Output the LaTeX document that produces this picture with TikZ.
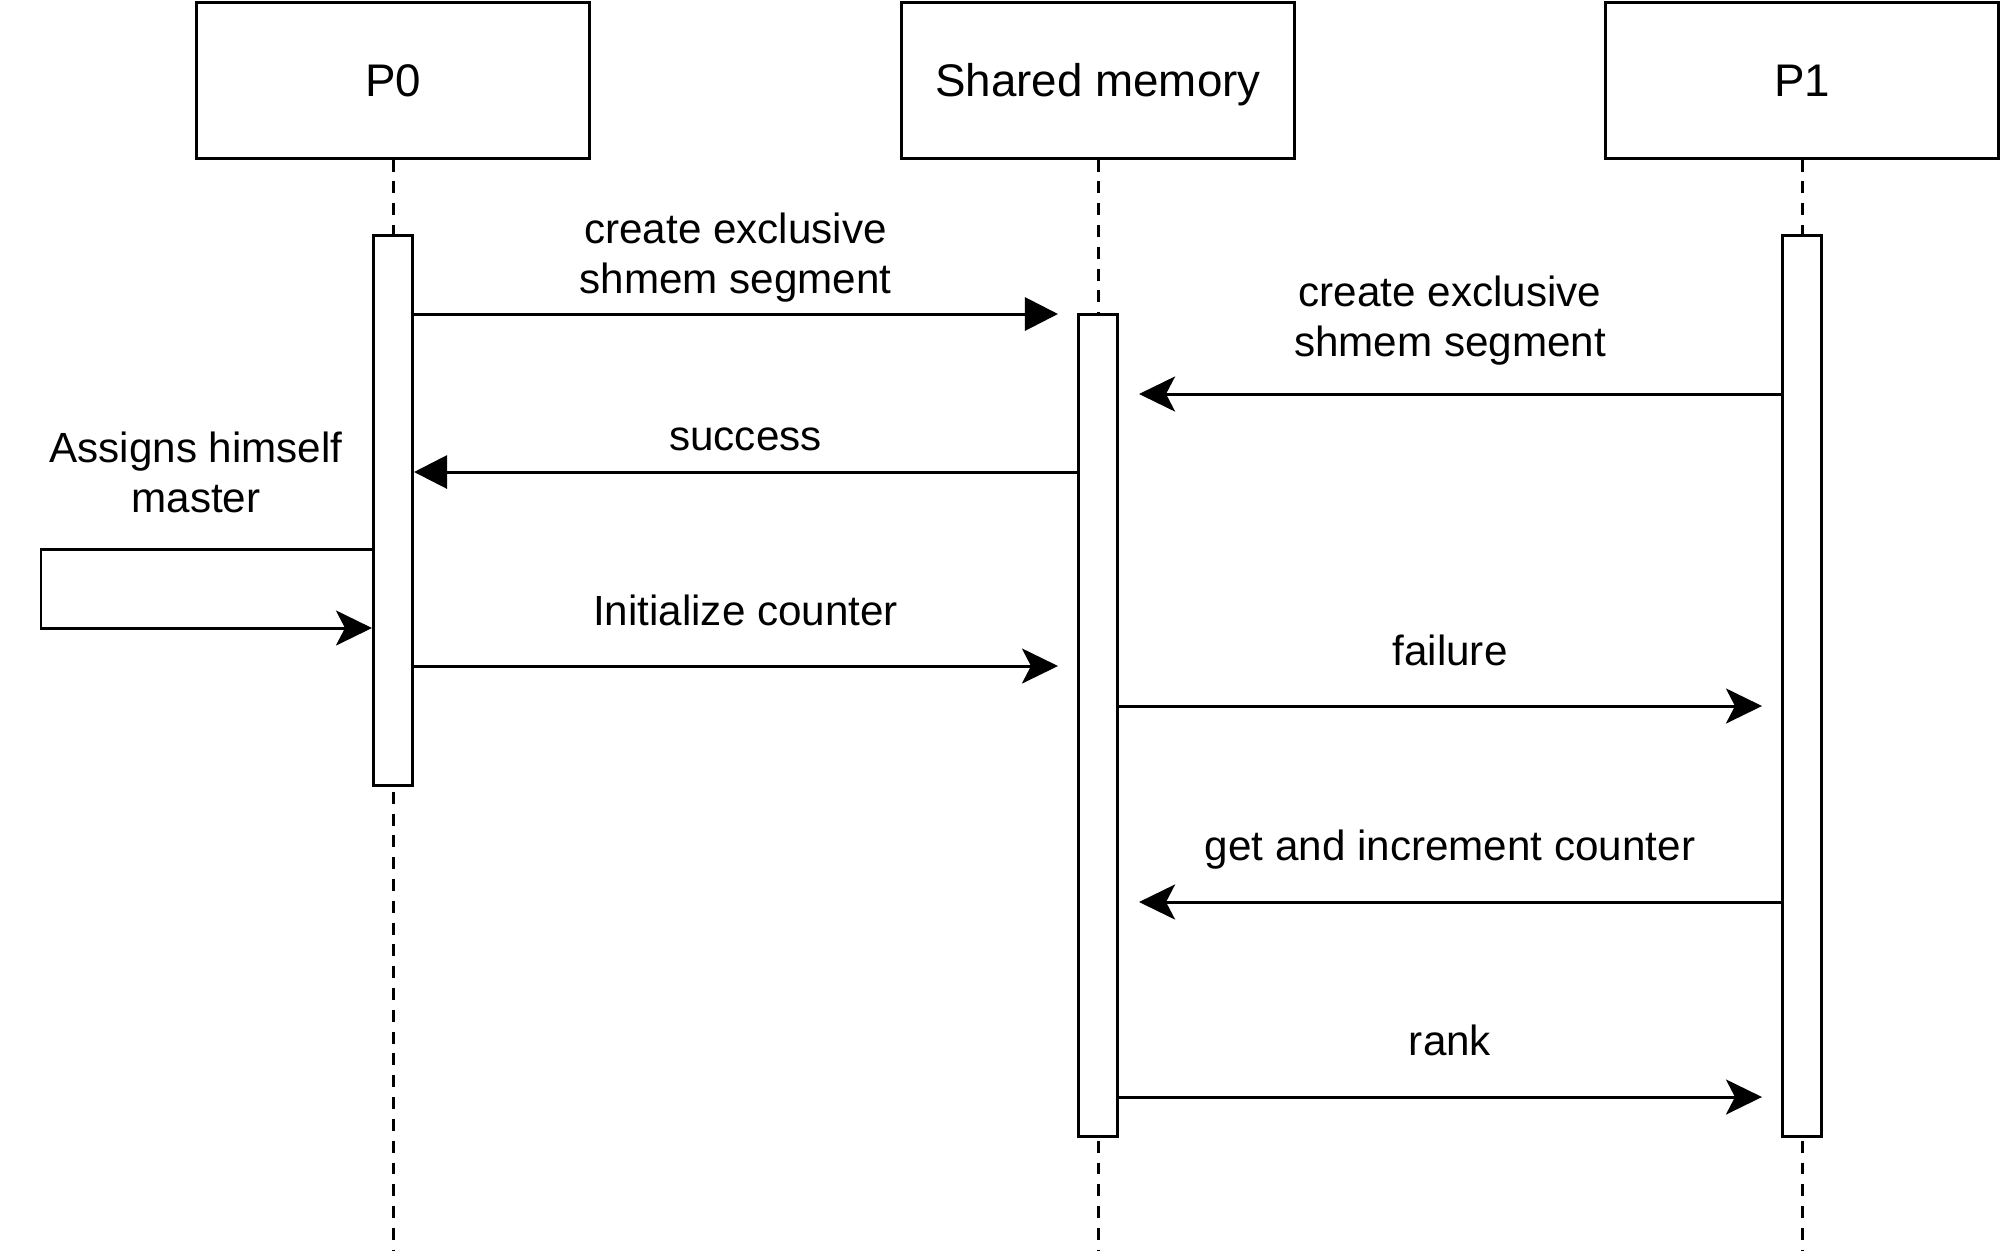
\documentclass[tikz,border=0pt]{standalone}
\usepackage{fontspec}
\setmainfont{Liberation Sans}
\usetikzlibrary{arrows.meta}

\begin{document}
\begin{tikzpicture}[x=0.01cm, y=-0.01cm, line width=0.85pt,
    head/.style={draw, minimum width=3.93cm, minimum height=1.55cm, text height=0.9em, text depth=0pt, font=\fontsize{13}{15}\selectfont},
    bar/.style={draw, fill=white, minimum width=0.39cm, inner sep=0pt},
    life/.style={dash pattern=on 3.4pt off 2.8pt},
    msg/.style={-{Stealth[length=0.36cm, width=0.35cm, inset=0.09cm]}},
    reply/.style={-{Triangle[length=0.33cm, width=0.33cm]}},
    lbl/.style={font=\fontsize{12}{14.2}\selectfont, align=center, inner sep=0pt}]
  \useasboundingbox (0,0) rectangle (2001,1257);

  \node[head] (p0) at (393,80.5) {P0};
  \node[head] (shm) at (1098,80.5) {Shared memory};
  \node[head] (p1) at (1802,80.5) {P1};

  \coordinate (e0) at (393,1250);
  \coordinate (eS) at (1098,1250);
  \coordinate (e1) at (1802,1250);
  \draw[life] (p0.south) -- (e0);
  \draw[life] (shm.south) -- (eS);
  \draw[life] (p1.south) -- (e1);

  \node[bar, minimum height=5.49cm] (b0) at (393,510.5) {};
  \node[bar, minimum height=8.21cm] (bS) at (1098,725.5) {};
  \node[bar, minimum height=9.00cm] (b1) at (1802,686) {};

  \coordinate (m1) at (0,314);
  \coordinate (m2) at (0,394);
  \coordinate (m3) at (0,472);
  \coordinate (m4) at (0,666);
  \coordinate (m5) at (0,706);
  \coordinate (m6) at (0,902);
  \coordinate (m7) at (0,1097);
  \coordinate (s1) at (41,549);
  \coordinate (s2) at (41,628);

  \draw[reply, shorten >=0.19cm] (b0.east |- m1) -- (bS.west |- m1)
    node[lbl, midway, yshift=0.56cm, xshift=-0.1cm] (t1) {create exclusive\\shmem segment};
  \draw[msg, shorten >=0.2cm] (b1.west |- m2) -- (bS.east |- m2)
    node[lbl, midway, yshift=0.735cm] (t2) {create exclusive\\shmem segment};
  \draw[reply] (bS.west |- m3) -- (b0.east |- m3)
    node[lbl, midway, yshift=0.33cm] (t3) {success};
  \draw[msg] (b0.west |- s1) -- (s1) -- (s2) -- (b0.west |- s2);
  \node[lbl] (t0) at (196,472) {Assigns himself\\master};
  \draw[msg, shorten >=0.19cm] (b0.east |- m4) -- (bS.west |- m4)
    node[lbl, midway, yshift=0.56cm] (t4) {Initialize counter};
  \draw[msg, shorten >=0.19cm] (bS.east |- m5) -- (b1.west |- m5)
    node[lbl, midway, yshift=0.56cm] (t5) {failure};
  \draw[msg, shorten >=0.2cm] (b1.west |- m6) -- (bS.east |- m6)
    node[lbl, midway, yshift=0.52cm] (t6) {get and increment counter};
  \draw[msg, shorten >=0.19cm] (bS.east |- m7) -- (b1.west |- m7)
    node[lbl, midway, yshift=0.57cm] (t7) {rank};
\end{tikzpicture}
\end{document}
